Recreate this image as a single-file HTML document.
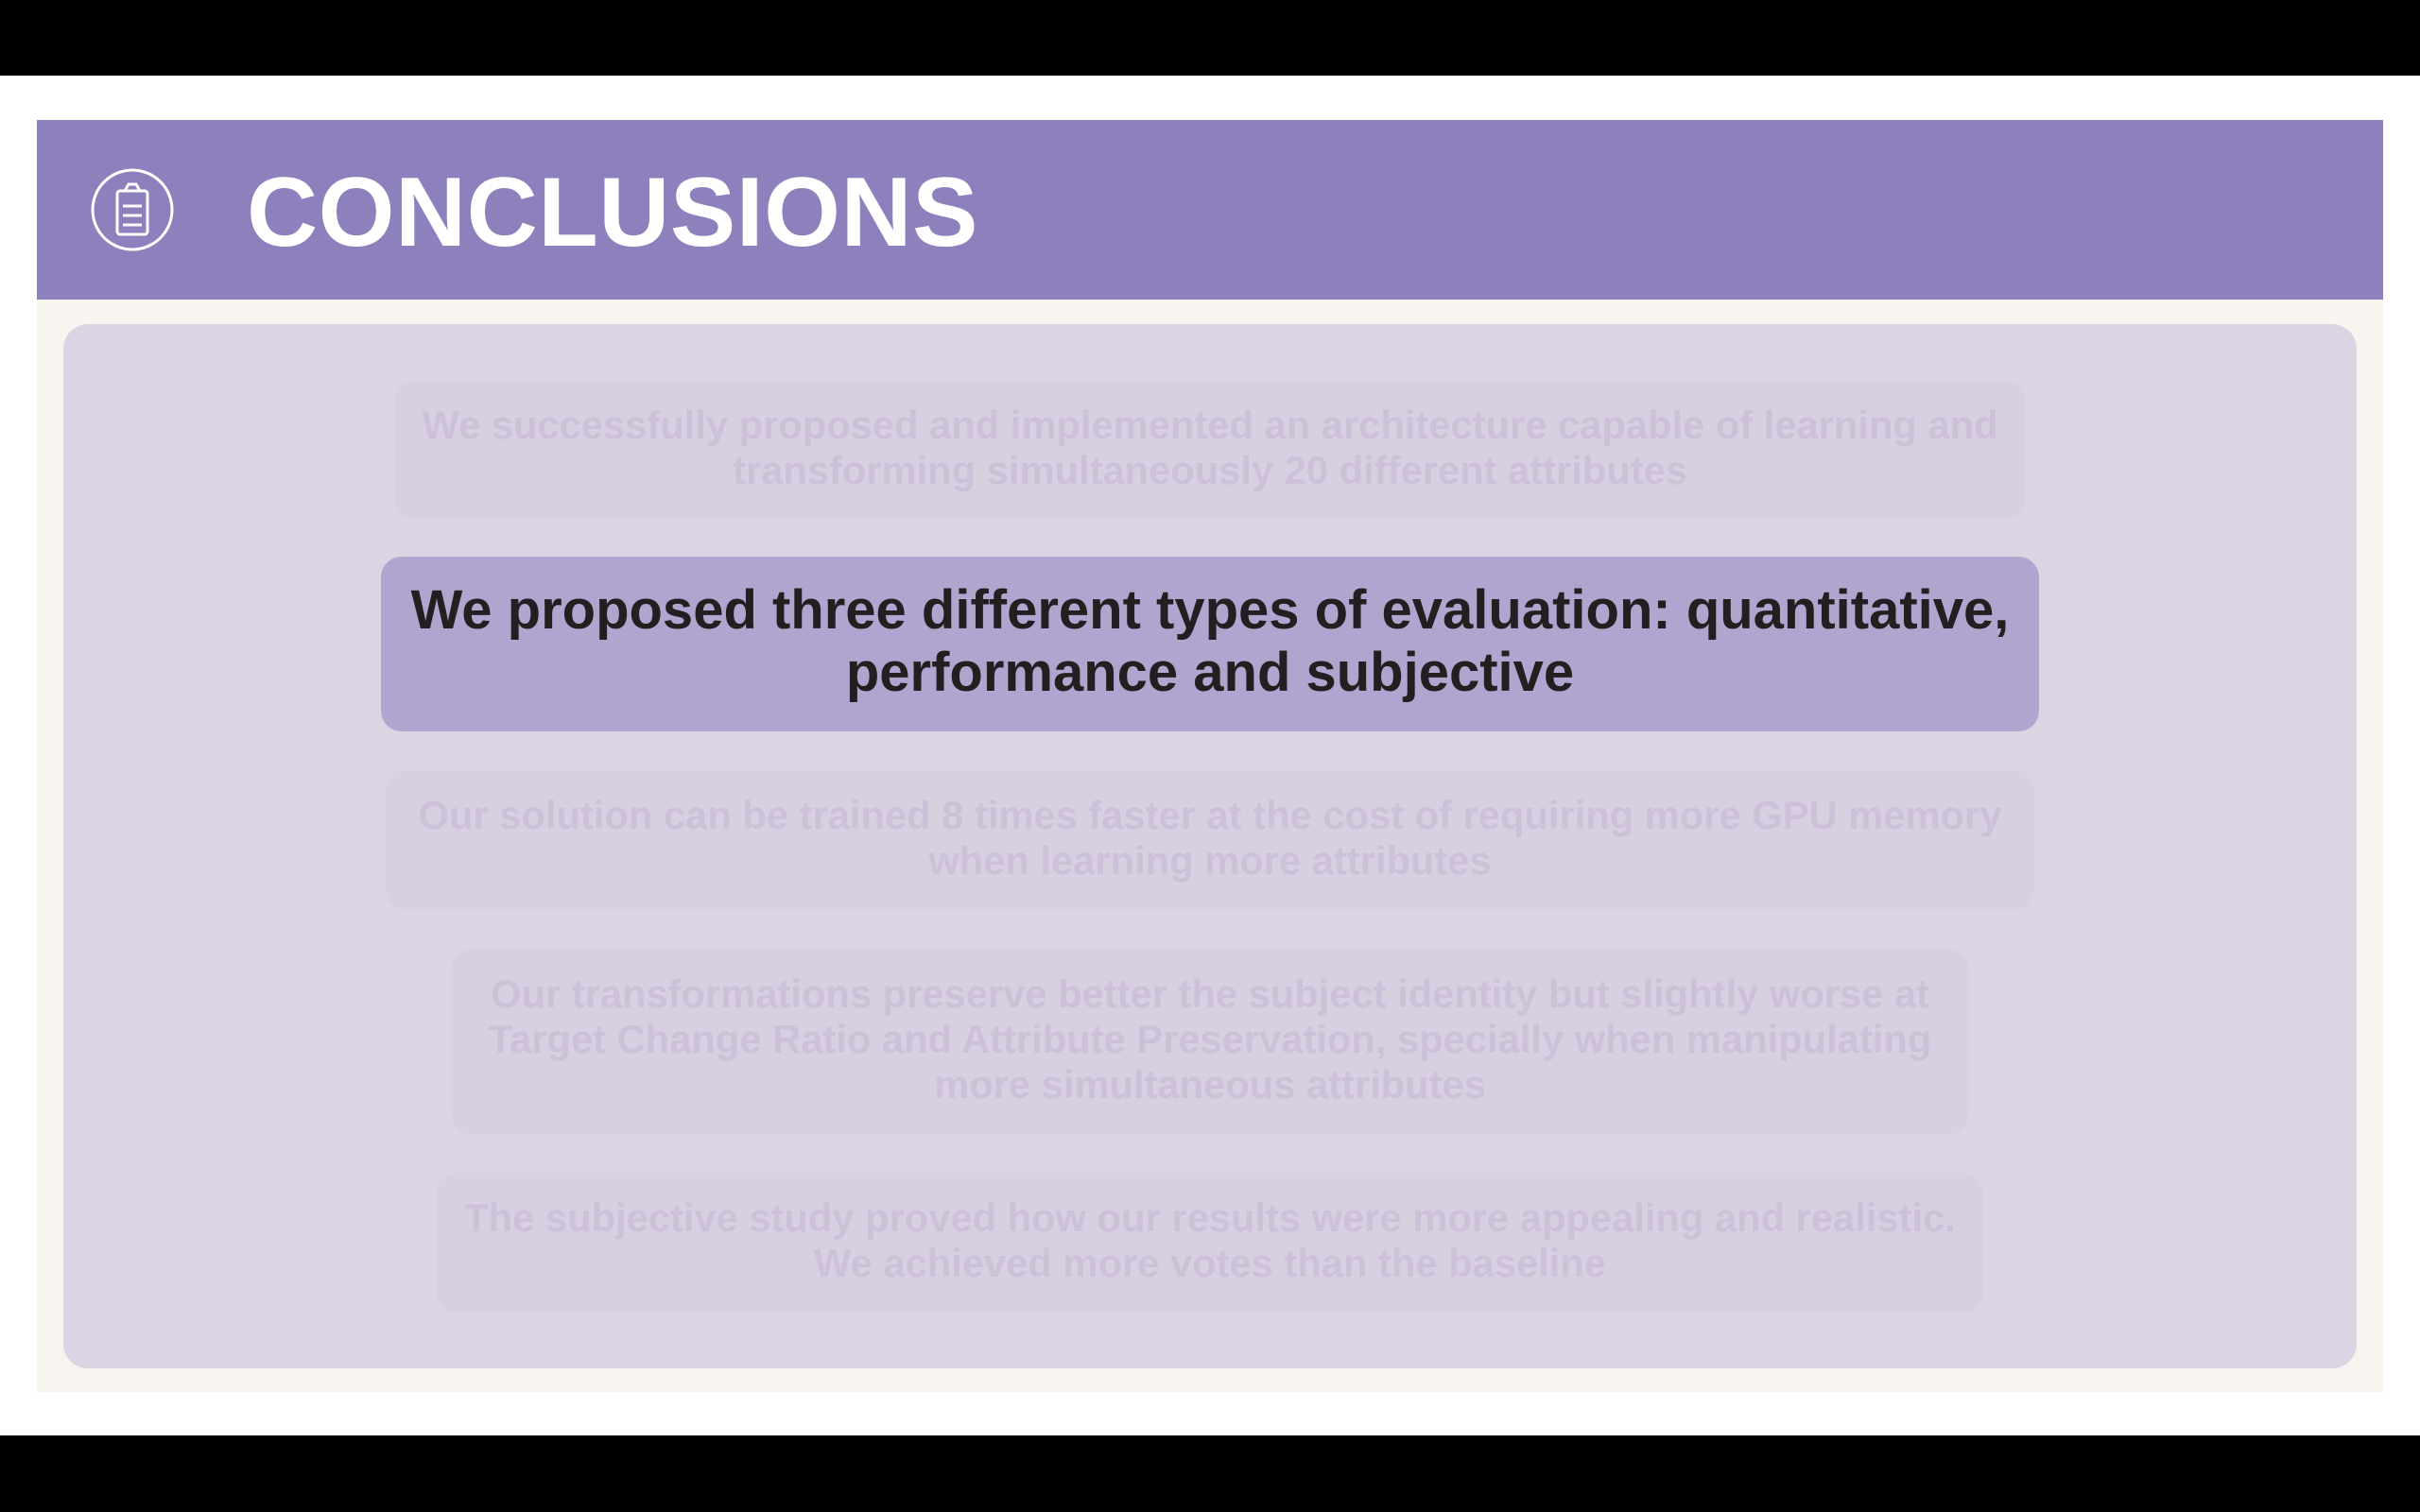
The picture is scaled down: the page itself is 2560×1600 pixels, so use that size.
<!DOCTYPE html>
<html><head><meta charset="utf-8"><style>
*{margin:0;padding:0;box-sizing:border-box}
body{width:2560px;height:1600px;background:#000;position:relative;overflow:hidden;font-family:"Liberation Sans",sans-serif}
.abs{position:absolute}
.box{position:absolute;border-radius:22px;display:flex;align-items:center;justify-content:center;text-align:center;font-weight:bold}
.faded{background:#d8cfe1;color:#cdc1d9;font-size:41.7px;line-height:48px;padding-bottom:4px}
</style></head><body>
<div class="abs" style="left:0;top:80px;width:2560px;height:1439px;background:#fff"></div>
<div class="abs" style="left:39px;top:127px;width:2482px;height:1346px;background:#f8f4f0"></div>
<div class="abs" style="left:39px;top:127px;width:2482px;height:190px;background:#8e80bc"></div>
<svg class="abs" style="left:94px;top:176px" width="92" height="92" viewBox="0 0 92 92">
<circle cx="46" cy="46" r="42" fill="none" stroke="#fff" stroke-width="3"/>
<rect x="30" y="26" width="32" height="46" rx="3" fill="none" stroke="#fff" stroke-width="3"/>
<path d="M38 26 L42 19 L50 19 L54 26 Z" fill="none" stroke="#fff" stroke-width="3"/>
<line x1="36" y1="42" x2="56" y2="42" stroke="#fff" stroke-width="3"/>
<line x1="36" y1="52" x2="56" y2="52" stroke="#fff" stroke-width="3"/>
<line x1="36" y1="62" x2="56" y2="62" stroke="#fff" stroke-width="3"/>
</svg>
<div class="abs" style="left:261px;top:163px;font-size:104px;line-height:124px;font-weight:bold;color:#fff;letter-spacing:0.5px">CONCLUSIONS</div>
<div class="abs" style="left:67px;top:343px;width:2426px;height:1105px;background:#dbd4e3;border-radius:26px"></div>
<div class="box faded" style="left:418px;top:402px;width:1724px;height:147px">We successfully proposed and implemented an architecture capable of learning and<br>transforming simultaneously 20 different attributes</div>
<div class="box" style="left:403px;top:589px;width:1754px;height:185px;background:#b1a5cf;color:#231f20;font-size:58px;line-height:66px;padding-bottom:6px">We proposed three different types of evaluation: quantitative,<br>performance and subjective</div>
<div class="box faded" style="left:408px;top:815px;width:1744px;height:148px">Our solution can be trained 8 times faster at the cost of requiring more GPU memory<br>when learning more attributes</div>
<div class="box faded" style="left:477px;top:1004px;width:1606px;height:196px">Our transformations preserve better the subject identity but slightly worse at<br>Target Change Ratio and Attribute Preservation, specially when manipulating<br>more simultaneous attributes</div>
<div class="box faded" style="left:462px;top:1241px;width:1636px;height:148px">The subjective study proved how our results were more appealing and realistic.<br>We achieved more votes than the baseline</div>
</body></html>
